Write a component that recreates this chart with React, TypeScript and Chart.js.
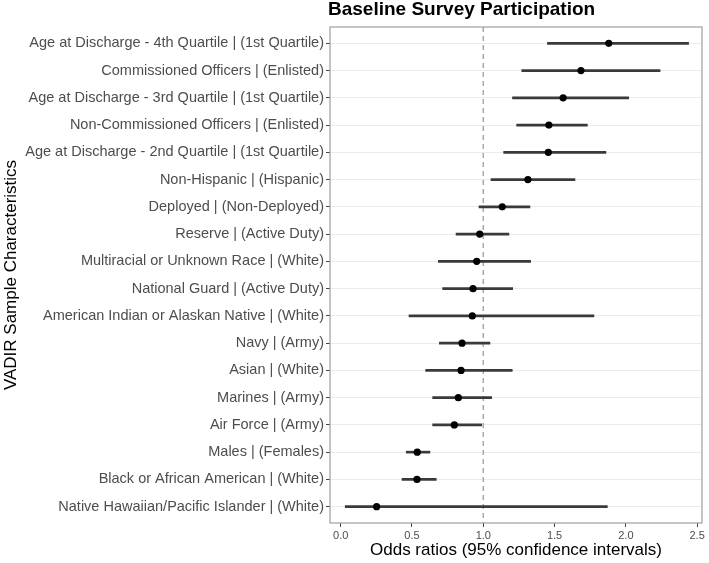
import React, { useEffect, useRef } from "react";
import { Chart, registerables } from "chart.js";

Chart.register(...registerables);

const categories: string[] = [
  "Age at Discharge - 4th Quartile | (1st Quartile)",
  "Commissioned Officers | (Enlisted)",
  "Age at Discharge - 3rd Quartile | (1st Quartile)",
  "Non-Commissioned Officers | (Enlisted)",
  "Age at Discharge - 2nd Quartile | (1st Quartile)",
  "Non-Hispanic | (Hispanic)",
  "Deployed | (Non-Deployed)",
  "Reserve | (Active Duty)",
  "Multiracial or Unknown Race | (White)",
  "National Guard | (Active Duty)",
  "American Indian or Alaskan Native | (White)",
  "Navy | (Army)",
  "Asian | (White)",
  "Marines | (Army)",
  "Air Force | (Army)",
  "Males | (Females)",
  "Black or African American | (White)",
  "Native Hawaiian/Pacific Islander | (White)",
];

const oddsRatios: number[] = [
  1.88, 1.685, 1.56, 1.46, 1.456, 1.313, 1.133, 0.975, 0.954, 0.928, 0.923,
  0.851, 0.844, 0.825, 0.797, 0.537, 0.535, 0.252,
];
const lowerCI: number[] = [
  1.45, 1.27, 1.205, 1.234, 1.143, 1.054, 0.97, 0.809, 0.685, 0.715, 0.479,
  0.692, 0.596, 0.645, 0.645, 0.46, 0.43, 0.032,
];
const upperCI: number[] = [
  2.44, 2.24, 2.02, 1.73, 1.86, 1.643, 1.327, 1.18, 1.332, 1.206, 1.776,
  1.047, 1.203, 1.059, 0.989, 0.626, 0.67, 1.87,
];
const xTicks: number[] = [0, 0.5, 1.0, 1.5, 2.0, 2.5];
const referenceValue = 1;

const titleText = "Baseline Survey Participation";
const xTitle = "Odds ratios (95% confidence intervals)";
const yTitle = "VADIR Sample Characteristics";

const FONT = "'Liberation Sans', Arial, sans-serif";

export default function App() {
  const ref = useRef<HTMLCanvasElement | null>(null);

  useEffect(() => {
    if (!ref.current) return;
    const n = categories.length;

    const titlePlugin = {
      id: "customTitle",
      afterDraw(chart: any) {
        const ctx = chart.ctx;
        ctx.save();
        ctx.font = `bold 19px ${FONT}`;
        ctx.fillStyle = "#000";
        ctx.textAlign = "left";
        ctx.textBaseline = "middle";
        ctx.fillText(titleText, chart.chartArea.left - 2, 10);
        ctx.restore();
      },
    };
    const borderPlugin = {
      id: "panelBorder",
      afterDatasetsDraw(chart: any) {
        const { left, top, right, bottom } = chart.chartArea;
        const ctx = chart.ctx;
        ctx.save();
        ctx.strokeStyle = "#9e9e9e";
        ctx.lineWidth = 1.2;
        ctx.strokeRect(left, top, right - left, bottom - top);
        ctx.restore();
      },
    };

    const chart = new Chart(ref.current, {
      type: "scatter",
      data: {
        datasets: [
          {
            type: "scatter",
            label: "Odds ratio",
            data: oddsRatios.map((v, i) => ({ x: v, y: i })),
            backgroundColor: "#000",
            borderColor: "#000",
            pointRadius: 3.6,
            pointBorderWidth: 0,
            order: 0,
          } as any,
          {
            type: "bar",
            label: "95% CI",
            indexAxis: "y",
            data: lowerCI.map((lo, i) => ({ x: [lo, upperCI[i]], y: i })),
            backgroundColor: "#3a3a3a",
            borderWidth: 0,
            barThickness: 2,
            order: 1,
          } as any,
          {
            type: "line",
            label: "ref",
            data: [
              { x: referenceValue, y: -0.6 },
              { x: referenceValue, y: n - 0.4 },
            ],
            borderColor: "#a8a8a8",
            borderWidth: 1.5,
            borderDash: [5, 4],
            pointRadius: 0,
            fill: false,
            order: 2,
          } as any,
        ],
      },
      options: {
        animation: false,
        responsive: false,
        layout: { padding: { top: 27, right: 7, left: 0, bottom: 0 } },
        plugins: {
          legend: { display: false },
          tooltip: { enabled: false },
        },
        scales: {
          x: {
            type: "linear",
            min: -0.075,
            max: 2.534,
            offset: false,
            afterBuildTicks: (scale: any) => {
              scale.ticks = xTicks.map((v) => ({ value: v }));
            },
            afterFit: (scale: any) => {
              scale.height = 40;
            },
            grid: {
              drawOnChartArea: false,
              drawTicks: true,
              tickLength: 4,
              tickColor: "#444",
              offset: false,
            },
            border: { display: false },
            ticks: {
              padding: 2,
              color: "#4d4d4d",
              font: { family: FONT, size: 11 },
              callback: (v: any) => Number(v).toFixed(1),
              maxRotation: 0,
            },
            title: {
              display: true,
              text: xTitle,
              color: "#000",
              font: { family: FONT, size: 17 },
              padding: { top: 0, bottom: 2 },
            },
          },
          y: {
            type: "linear",
            reverse: true,
            offset: false,
            min: -0.6,
            max: n - 0.4,
            afterBuildTicks: (scale: any) => {
              scale.ticks = categories.map((_, i) => ({ value: i }));
            },
            afterFit: (scale: any) => {
              scale.width = 330;
            },
            grid: {
              color: "#ebebeb",
              lineWidth: 1,
              drawTicks: true,
              tickLength: 4,
              tickColor: "#444",
              offset: false,
            },
            border: { display: false },
            ticks: {
              padding: 2,
              color: "#4d4d4d",
              font: { family: FONT, size: 14.5 },
              autoSkip: false,
              callback: (v: any) => categories[Math.round(Number(v))] ?? "",
            },
            title: {
              display: true,
              text: yTitle,
              color: "#000",
              font: { family: FONT, size: 17 },
              padding: { top: 1, bottom: 0 },
            },
          },
        },
      } as any,
      plugins: [titlePlugin, borderPlugin],
    });

    return () => chart.destroy();
  }, []);

  return (
    <div style={{ position: "absolute", left: 0, top: 0, width: 709, height: 563 }}>
      <canvas ref={ref} width={709} height={563} />
    </div>
  );
}
